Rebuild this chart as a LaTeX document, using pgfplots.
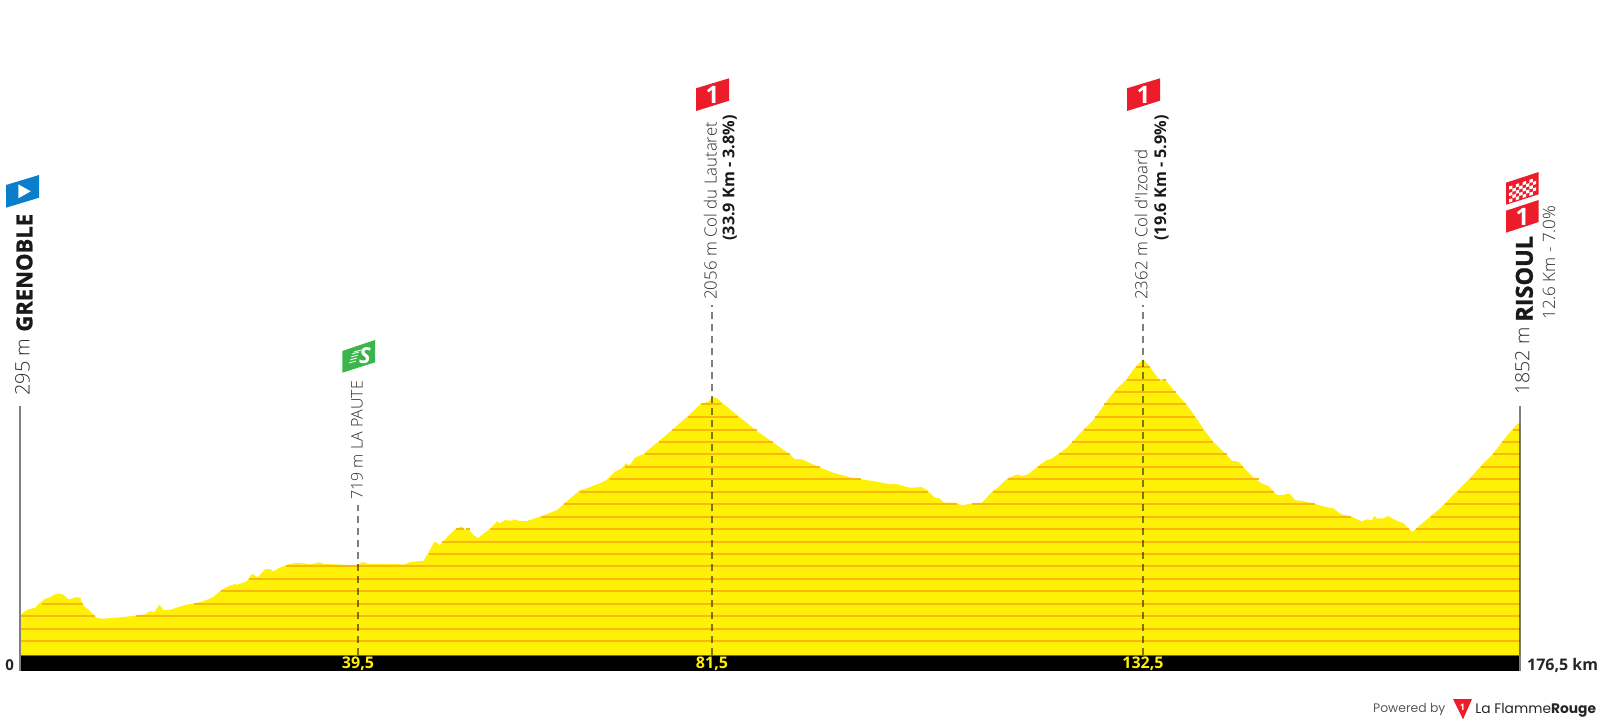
\documentclass[border=0pt]{standalone}
\usepackage{pgfplots}
\pgfplotsset{compat=1.18}
\usepackage{fontspec}
\setmainfont{Open Sans}
\newfontfamily\osl{Open Sans Light}
\newcommand\osx{\bfseries\addfontfeature{FakeBold=1.2}}
\newfontfamily\pop{Poppins}
\definecolor{prof}{HTML}{FFF008}
\definecolor{stripe}{HTML}{F8B908}
\definecolor{txt}{HTML}{2C2C2C}
\definecolor{flagred}{HTML}{ED1C2A}
\definecolor{flagblue}{HTML}{0A7ECB}
\definecolor{flaggreen}{HTML}{39B54A}
\pgfplotstableread{
km m
0 -28
0 295
0.6 327
1.0 341
1.8 354
2.2 385
2.9 424
3.5 438
4.1 462
4.7 467
5.2 456
5.7 422
6.1 427
6.5 438
7.1 435
7.4 376
8.0 341
8.5 309
9.0 273
9.6 265
11.2 273
13.5 289
14.7 301
15.3 325
15.8 319
16.4 378
16.9 333
17.7 338
19.4 376
21.4 402
22.7 438
23.7 497
24.5 527
25.3 545
25.6 540
26.7 569
27.3 628
28.0 599
28.8 664
29.4 666
29.8 648
30.4 672
31.4 701
32.4 715
33.5 712
34.1 704
35.2 720
35.7 709
38.0 701
39.7 701
40.4 723
41.0 707
42.4 709
45.3 704
45.9 723
47.5 733
48.0 793
48.8 890
49.4 860
50.4 935
51.3 992
52.0 1011
52.4 981
52.7 1000
53.3 943
53.9 917
55.3 992
56.2 1054
56.4 1035
57.1 1062
57.9 1056
58.1 1068
58.8 1054
59.6 1054
61.2 1089
63.2 1143
64.3 1210
65.9 1304
66.7 1318
68.2 1358
69.0 1385
70.0 1452
70.8 1479
71.3 1520
71.7 1504
72.4 1568
73.3 1592
75.2 1700
76.7 1789
78.6 1902
80.1 1999
81.0 2017
81.43 2056
82.0 2045
83.9 1936
86.7 1781
88.6 1689
90.7 1587
91.1 1557
92.0 1552
94.1 1487
95.7 1444
98.1 1399
100.4 1377
102.4 1350
103.0 1355
104.7 1323
106.1 1328
106.7 1304
107.6 1245
108.2 1237
108.7 1202
110.0 1202
110.9 1181
112.0 1197
113.2 1202
114.5 1299
115.1 1326
116.2 1399
117.0 1420
117.4 1431
117.9 1417
118.6 1431
119.8 1498
120.8 1546
121.4 1557
122.2 1597
123.2 1646
125.1 1789
126.3 1869
127.7 2004
128.8 2104
130.2 2198
131.2 2295
132.14 2362
132.8 2313
134.0 2198
134.7 2200
135.9 2098
137.3 1990
138.3 1896
139.2 1802
140.4 1694
142.0 1587
142.6 1541
143.4 1533
144.2 1471
145.1 1407
146.1 1358
146.9 1337
147.9 1264
148.7 1266
149.4 1277
150.0 1223
151.0 1215
152.4 1191
153.8 1165
154.5 1156
155.5 1108
156.7 1089
157.9 1051
158.5 1068
159.1 1062
159.4 1097
159.6 1076
160.4 1076
161.0 1094
161.8 1062
162.8 1035
163.8 965
164.3 995
165.9 1089
167.1 1156
169.2 1304
170.6 1399
172.0 1506
173.2 1587
174.4 1694
175.7 1802
176.2 1840
176.5 1840
176.5 -28
}\profile
\begin{document}
\begin{tikzpicture}[x=0.5pt,y=-0.5pt]
\path[use as bounding box] (0,0) rectangle (1600,725);
\begin{axis}[
  at={(10pt,-335.5pt)},anchor=south west,
  scale only axis,width=750pt,height=315.83pt,
  xmin=0,xmax=176.5,ymin=-157,ymax=4943,
  axis lines=none,clip=false,unbounded coords=jump,
]
\addplot[fill=prof,draw=none] table[x=km,y=m] {\profile};
\addplot[stripe,line width=1pt,no marks] coordinates {
(0,85)(176.5,85) (nan,nan)
(0,184)(176.5,184) (nan,nan)
(0,287)(8.8,287) (nan,nan) (13.6,287)(176.5,287) (nan,nan)
(2.55,386)(7.45,386) (nan,nan) (20.5,386)(176.5,386) (nan,nan)
(23.65,489)(176.5,489) (nan,nan)
(26.95,588)(176.5,588) (nan,nan)
(31.3,691)(176.5,691) (nan,nan)
(48.1,787)(176.5,787) (nan,nan)
(49.7,887)(176.5,887) (nan,nan)
(51.3,989)(52.2,989) (nan,nan) (52.5,989)(53,989) (nan,nan) (55.3,989)(163.4,989) (nan,nan) (164.3,989)(176.5,989) (nan,nan)
(61.3,1089)(156.6,1089) (nan,nan) (166,1089)(176.5,1089) (nan,nan)
(64,1191)(110.2,1191) (nan,nan) (112,1191)(152.4,1191) (nan,nan) (167.7,1191)(176.5,1191) (nan,nan)
(65.9,1291)(106.8,1291) (nan,nan) (114.5,1291)(147.6,1291) (nan,nan) (169.2,1291)(176.5,1291) (nan,nan)
(69.4,1393)(98.9,1393) (nan,nan) (116.2,1393)(145.8,1393) (nan,nan) (170.6,1393)(176.5,1393) (nan,nan)
(71.2,1492)(94.1,1492) (nan,nan) (119.8,1492)(143.9,1492) (nan,nan) (171.9,1492)(176.5,1492) (nan,nan)
(73.5,1595)(90.6,1595) (nan,nan) (122.2,1595)(142,1595) (nan,nan) (173.3,1595)(176.5,1595) (nan,nan)
(75.2,1694)(88.6,1694) (nan,nan) (123.8,1694)(140.4,1694) (nan,nan) (174.4,1694)(176.5,1694) (nan,nan)
(76.7,1793)(86.7,1793) (nan,nan) (125.2,1793)(139.2,1793) (nan,nan) (175.7,1793)(176.5,1793) (nan,nan)
(78.6,1894)(84.5,1894) (nan,nan) (126.5,1894)(138.3,1894) (nan,nan)
(80.1,1995)(82.5,1995) (nan,nan) (127.6,1995)(137.2,1995) (nan,nan)
(128.8,2096)(136,2096) (nan,nan)
(130.2,2196)(134.1,2196) (nan,nan) (134.5,2196)(134.9,2196) (nan,nan)
(131.3,2297)(133,2297)
};
% black km strip
\addplot[fill=black,draw=none] coordinates {(0,-157)(0,-28)(176.5,-28)(176.5,-157)};
\addplot[draw=black!55!prof,line width=0.5pt] coordinates {(0,-28)(176.5,-28)};
% climb / sprint markers
\addplot[black,opacity=.5,line width=1pt,dash pattern=on 3.6pt off 2.4pt] coordinates {(39.77,-28)(39.77,1180)};
\addplot[black,opacity=.5,line width=1pt,dash pattern=on 3.6pt off 2.4pt] coordinates {(81.43,-28)(81.43,2800)};
\addplot[black,opacity=.5,line width=1pt,dash pattern=on 3.6pt off 2.4pt] coordinates {(132.14,-28)(132.14,2800)};
% start / finish verticals
\addplot[black!50,line width=1pt] coordinates {(0,-157)(0,1980)};
\addplot[black,opacity=.5,line width=1pt] coordinates {(176.5,-28)(176.5,1980)};
\addplot[black!50,line width=1pt] coordinates {(176.5,-157)(176.5,-28)};
\end{axis}
% flags
\fill[flagblue] (6,185)--(39,175)--(39,197.7)--(6,207.7)--cycle;
\fill[white] (18.3,184.3)--(30.7,191.3)--(18.3,198.3)--cycle;
\fill[flaggreen] (342.3,351)--(375,340)--(375,362.3)--(342.3,372.7)--cycle;
\node[white,font=\bfseries\itshape\fontsize{11pt}{11pt}\selectfont] at (365,355.5) {S};
\foreach \a/\b in {352/353,351/356,350/359,349/362,354/351}
  \draw[white,line width=0.4pt] (\a,\b+1)--(\a+7,\b-1);
\foreach \xx in {696,1127}{
  \fill[flagred] (\xx,88.3)--(\xx+33,78.3)--(\xx+33,100.7)--(\xx,111)--cycle;
  \node[white,font=\bfseries\fontsize{12pt}{12pt}\selectfont] at (\xx+16.5,94.5) {1};
}
\fill[flagred] (1506,210.7)--(1538.7,200)--(1538.7,222)--(1506,232.7)--cycle;
\node[white,font=\bfseries\fontsize{12pt}{12pt}\selectfont] at (1522.5,216.5) {1};
\fill[flagred] (1506,182.7)--(1538.7,172)--(1538.7,194.3)--(1506,204.7)--cycle;
\foreach \i in {0,...,7}{\foreach \j in {0,...,4}{
  \pgfmathtruncatemacro{\k}{mod(\i+\j,2)}
  \ifnum\k=0
   \fill[white] ({1509+\i*3.4},{186.5-\i*3.4*0.327+\j*3.2})
     --++(3.4,-1.1)--++(0,3.2)--++(-3.4,1.1)--cycle;
  \fi
}}
% labels
\def\lab#1#2#3#4{\node[rotate=90,anchor=base west,inner sep=0pt,text=txt,font=\osl\fontsize{#3pt}{#3pt}\selectfont] at (#1,#2) {#4};}
\def\blab#1#2#3#4{\node[rotate=90,anchor=base west,inner sep=0pt,text=black!90,font=\bfseries\fontsize{#3pt}{#3pt}\selectfont] at (#1,#2) {#4};}
\def\xlab#1#2#3#4{\node[rotate=90,anchor=base west,inner sep=0pt,text=black!90,font=\fontsize{#3pt}{#3pt}\selectfont\osx] at (#1,#2) {#4};}
\lab{29.5}{396}{10}{295 m}
\xlab{32.3}{332}{11}{GRENOBLE}
\lab{362.7}{500}{8}{719 m LA PAUTE}
\lab{716.7}{300}{8.4}{2056 m Col du Lautaret}
\blab{734.3}{241}{8.1}{(33.9 Km - 3.8\%)}
\lab{1147.3}{300}{8.4}{2362 m Col d'Izoard}
\blab{1166}{241}{8.1}{(19.6 Km - 5.9\%)}
\lab{1529.3}{395}{9.8}{1852 m}
\xlab{1532.7}{322}{11.7}{RISOUL}
\lab{1555}{320}{8.5}{12.6 Km - 7.0\%}
% km strip labels
\node[anchor=base,inner sep=0pt,text=prof,font=\bfseries\fontsize{8pt}{8pt}\selectfont] at (358,668.3) {39,5};
\node[anchor=base,inner sep=0pt,text=prof,font=\bfseries\fontsize{8pt}{8pt}\selectfont] at (712,668.3) {81,5};
\node[anchor=base,inner sep=0pt,text=prof,font=\bfseries\fontsize{8pt}{8pt}\selectfont] at (1143,668.3) {132,5};
\node[anchor=base west,inner sep=0pt,text=black!85,font=\bfseries\fontsize{7.5pt}{7.5pt}\selectfont] at (5,670.7) {0};
\node[anchor=base west,inner sep=0pt,text=black!85,font=\bfseries\fontsize{8pt}{8pt}\selectfont] at (1526.7,670.7) {176,5 km};
% credit
\node[anchor=base west,inner sep=0pt,text=black!65,font=\pop\fontsize{6.2pt}{6.2pt}\selectfont] at (1372.7,712.7) {Powered by};
\fill[flagred] (1453,699)--(1472,699)--(1463,719.3)--cycle;
\node[white,font=\bfseries\fontsize{4.5pt}{4.5pt}\selectfont] at (1462.5,707) {1};
\node[anchor=base west,inner sep=0pt,text=black!85,font=\pop\fontsize{6.9pt}{6.9pt}\selectfont] at (1475,713.3) {La Flamme\textbf{Rouge}};
\end{tikzpicture}
\end{document}
